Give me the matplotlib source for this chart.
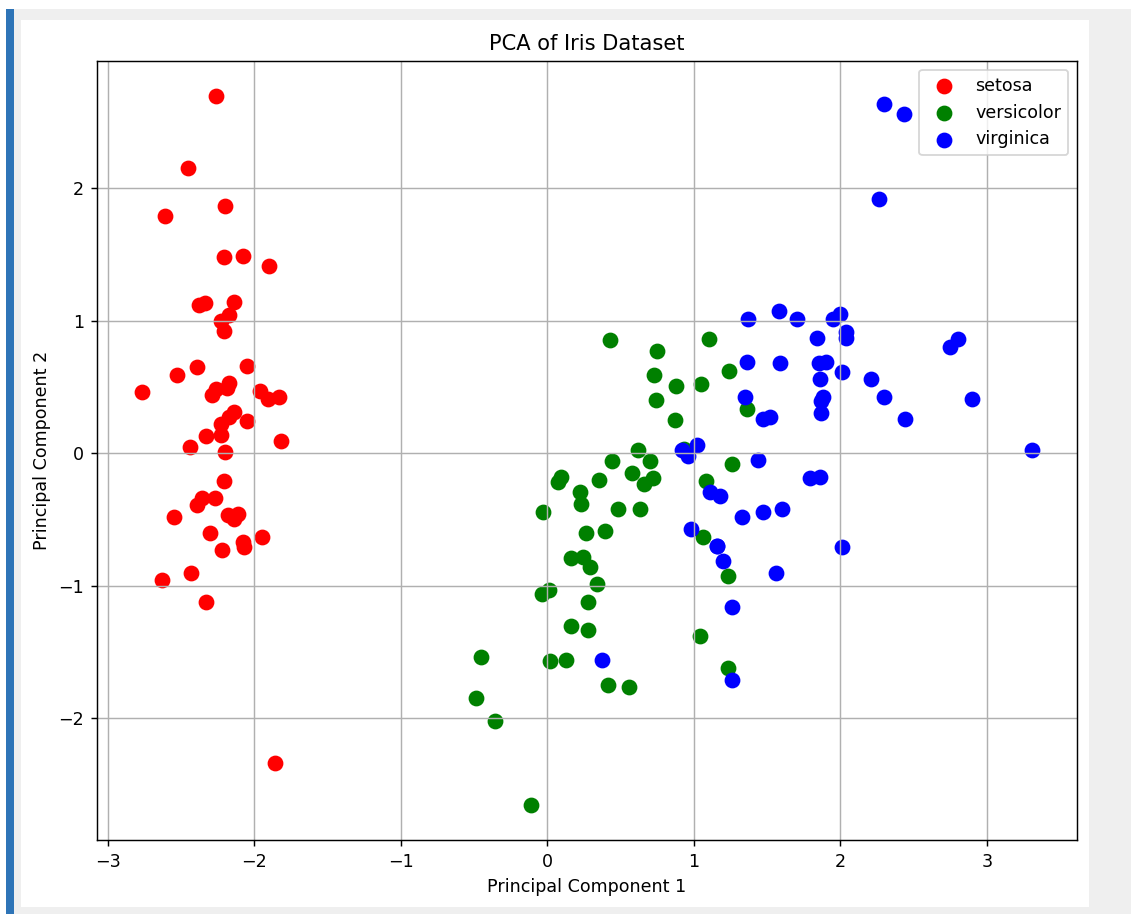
import matplotlib
matplotlib.use('Agg')
import matplotlib.pyplot as plt
from matplotlib.patches import Rectangle

# PCA scores (PC1, PC2 per species)
setosa_pc1 = [-2.26, -2.08, -2.36, -2.30, -2.39, -2.08, -2.44, -2.23, -2.33, -2.18,
              -2.17, -2.33, -2.22, -2.63, -2.20, -2.26, -2.21, -2.19, -1.90, -2.34,
              -1.91, -2.21, -2.77, -1.82, -2.23, -1.95, -2.05, -2.17, -2.14, -2.27,
              -2.14, -1.83, -2.61, -2.45, -2.11, -2.21, -2.05, -2.53, -2.43, -2.17,
              -2.29, -1.86, -2.55, -1.96, -2.14, -2.07, -2.38, -2.39, -2.23, -2.20]
setosa_pc2 = [0.48, -0.67, -0.34, -0.60, 0.65, 1.49, 0.05, 0.22, -1.12, -0.47,
              1.04, 0.13, -0.73, -0.96, 1.86, 2.69, 1.48, 0.49, 1.41, 1.13,
              0.41, 0.92, 0.46, 0.09, 0.14, -0.63, 0.24, 0.53, 0.31, -0.34,
              -0.50, 0.42, 1.79, 2.15, -0.46, -0.21, 0.66, 0.59, -0.90, 0.27,
              0.44, -2.34, -0.48, 0.47, 1.14, -0.71, 1.12, -0.39, 1.00, 0.01]

versicolor_pc1 = [1.10, 0.73, 1.24, 0.41, 1.08, 0.39, 0.75, -0.49, 0.93, 0.01,
                  -0.11, 0.44, 0.56, 0.72, -0.03, 0.88, 0.35, 0.16, 1.23, 0.16,
                  0.74, 0.48, 1.23, 0.63, 0.70, 0.87, 1.26, 1.36, 0.66, -0.04,
                  0.13, 0.02, 0.24, 1.06, 0.22, 0.43, 1.05, 1.04, 0.07, 0.28,
                  0.28, 0.62, 0.34, -0.36, 0.29, 0.09, 0.23, 0.58, -0.45, 0.26]
versicolor_pc2 = [0.86, 0.59, 0.62, -1.75, -0.21, -0.59, 0.77, -1.85, 0.03, -1.03,
                  -2.65, -0.06, -1.76, -0.19, -0.44, 0.51, -0.20, -0.79, -1.62, -1.30,
                  0.40, -0.42, -0.93, -0.42, -0.06, 0.25, -0.08, 0.33, -0.23, -1.06,
                  -1.56, -1.57, -0.78, -0.63, -0.29, 0.85, 0.52, -1.38, -0.22, -1.33,
                  -1.12, 0.02, -0.99, -2.02, -0.86, -0.18, -0.38, -0.15, -1.54, -0.60]

virginica_pc1 = [1.84, 1.16, 2.21, 1.44, 1.87, 2.75, 0.37, 2.30, 2.01, 2.26,
                 1.36, 1.60, 1.88, 1.26, 1.47, 1.59, 1.47, 2.43, 3.31, 1.26,
                 2.04, 0.98, 2.90, 1.33, 1.70, 1.95, 1.18, 1.02, 1.79, 1.86,
                 2.44, 2.30, 1.86, 1.11, 1.20, 2.80, 1.58, 1.35, 0.92, 1.85,
                 2.01, 1.90, 1.16, 2.04, 2.00, 1.87, 1.56, 1.52, 1.37, 0.96]
virginica_pc2 = [0.87, -0.70, 0.56, -0.05, 0.30, 0.80, -1.56, 0.42, -0.71, 1.92,
                 0.69, -0.42, 0.42, -1.16, -0.44, 0.68, 0.26, 2.56, 0.02, -1.71,
                 0.91, -0.57, 0.41, -0.48, 1.01, 1.01, -0.32, 0.06, -0.19, 0.56,
                 0.26, 2.63, -0.18, -0.29, -0.81, 0.86, 1.07, 0.42, 0.02, 0.68,
                 0.61, 0.69, -0.70, 0.87, 1.05, 0.39, -0.90, 0.27, 1.01, -0.02]

species = ['setosa', 'versicolor', 'virginica']
colors = ['red', 'green', 'blue']

plt.rcParams['font.size'] = 9.7

W, H, DPI = 1131, 914, 130
fig = plt.figure(figsize=(W / DPI, H / DPI), dpi=DPI, facecolor='white')

def px_rect(x0, y0, x1, y1, color):
    # rectangle given in pixel coords (top-left origin)
    fig.add_artist(Rectangle((x0 / W, 1 - y1 / H), (x1 - x0) / W, (y1 - y0) / H,
                             transform=fig.transFigure, facecolor=color,
                             edgecolor='none', zorder=-10))

# screenshot frame around the figure
px_rect(6, 9, W, H, '#efefef')
px_rect(21, 20, 1089, 907, 'white')
px_rect(6, 9, 14, H, '#2e74b7')

ax = fig.add_axes([97 / W, 1 - 840 / H, 980 / W, 779 / H])

data = [(setosa_pc1, setosa_pc2), (versicolor_pc1, versicolor_pc2),
        (virginica_pc1, virginica_pc2)]
for (xs, ys), name, c in zip(data, species, colors):
    ax.scatter(xs, ys, c=c, s=60, label=name)

ax.set_title('PCA of Iris Dataset')
ax.set_xlabel('Principal Component 1')
ax.set_ylabel('Principal Component 2')
ax.legend(loc='upper right')
ax.grid(True)

fig.savefig('out.png', dpi=DPI)
